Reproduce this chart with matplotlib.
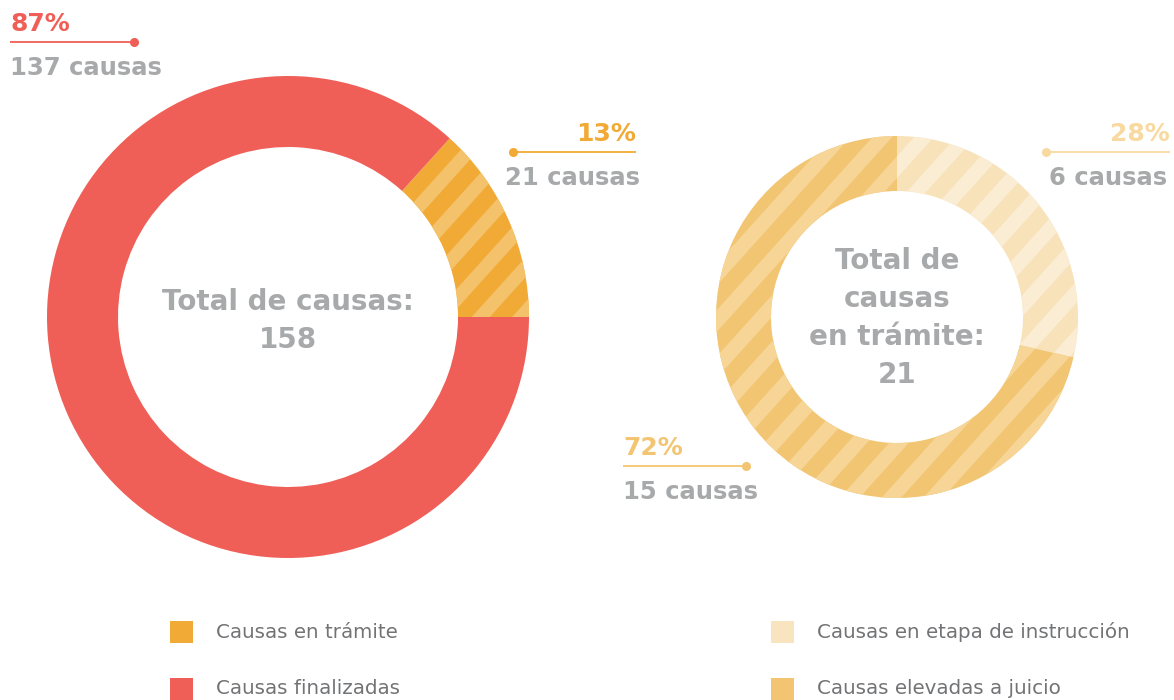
import matplotlib
matplotlib.use('Agg')
import matplotlib.pyplot as plt
import numpy as np

# datos
total_labels = ['Causas en trámite', 'Causas finalizadas']
total_values = [21, 137]
total_pct = [13, 87]

tramite_labels = ['Causas en etapa de instrucción', 'Causas elevadas a juicio']
tramite_values = [6, 15]
tramite_pct = [28, 72]

RED = '#EF5F57'
ORANGE = '#F0AA35'
LIGHT = '#F9E4C0'
MID = '#F3C572'
GRAY = '#A7A9AA'
LEG_GRAY = '#727375'

W, H = 1174, 700
fig = plt.figure(figsize=(W / 100, H / 100), dpi=100)
fig.patch.set_facecolor('white')

bg = fig.add_axes([0, 0, 1, 1])
bg.set_xlim(0, W)
bg.set_ylim(H, 0)
bg.axis('off')


def stripes(ax, wedge, color, r, period_px, frac, ang=48):
    # diagonal bands clipped to the wedge
    t = np.radians(ang)
    d = np.array([np.cos(t), np.sin(t)])
    n = np.array([-np.sin(t), np.cos(t)])
    p = period_px / r
    w = p * frac
    for k in range(-int(1.6 / p) - 1, int(1.6 / p) + 2):
        c = k * p
        pts = np.array([c * n - 2 * d, c * n + 2 * d, (c + w) * n + 2 * d, (c + w) * n - 2 * d])
        poly = ax.fill(pts[:, 0], pts[:, 1], color=color, lw=0, zorder=3)[0]
        poly.set_clip_path(wedge)


def donut(cx, cy, r, rin, values, start, counter, bases, bands, period_px, frac):
    ax = fig.add_axes([(cx - r) / W, 1 - (cy + r) / H, 2 * r / W, 2 * r / H])
    wedges, _ = ax.pie(values, startangle=start, counterclock=counter, radius=1,
                       colors=bases, wedgeprops=dict(width=1 - rin / r, linewidth=0))
    for wdg, s in zip(wedges, bands):
        if s:
            stripes(ax, wdg, s, r, period_px, frac)
    ax.set_xlim(-1, 1)
    ax.set_ylim(-1, 1)
    ax.set_aspect('equal')
    ax.axis('off')
    return ax


donut(288, 317, 241, 170, total_values, 0, True,
      [ORANGE, RED], ['#F3C26B', None], 30, 0.45)
donut(897, 317, 181, 126, tramite_values, 90, False,
      ['#F8E2B9', '#F2C572'], ['#FAEDD4', '#F6D597'], 31, 0.47)

bold = dict(fontweight='bold', family='DejaVu Sans')

# texto central
bg.text(288, 302, 'Total de causas:', ha='center', va='center', fontsize=20, color=GRAY, **bold)
bg.text(288, 340, f'{sum(total_values)}', ha='center', va='center', fontsize=20, color=GRAY, **bold)
for i, s in enumerate(['Total de', 'causas', 'en trámite:', f'{sum(tramite_values)}']):
    bg.text(897, 261 + i * 38, s, ha='center', va='center', fontsize=20, color=GRAY, **bold)


def callout(x0, x1, y, dot_x, pct, n, color, align, dx=0):
    bg.plot([x0, x1], [y, y], color=color, lw=1.3, solid_capstyle='butt')
    bg.plot([dot_x], [y], 'o', color=color, ms=5.5)
    tx = x0 if align == 'left' else x1
    bg.text(tx, y - 6, f'{pct}%', ha=align, va='bottom', fontsize=18, color=color, **bold)
    bg.text(tx + dx, y + 26, f'{n} causas', ha=align, va='center', fontsize=17.5, color=GRAY, **bold)


callout(10, 134, 42, 134, total_pct[1], total_values[1], RED, 'left')
callout(513, 636, 152, 513, total_pct[0], total_values[0], ORANGE, 'right', dx=4)
callout(1046, 1170, 152, 1046, tramite_pct[0], tramite_values[0], '#F8D9A0', 'right', dx=-3)
callout(623, 746, 466, 746, tramite_pct[1], tramite_values[1], MID, 'left')

# leyenda
legend_items = [
    (170, 632, ORANGE, total_labels[0]),
    (170, 689, RED, total_labels[1]),
    (771, 632, LIGHT, tramite_labels[0]),
    (771, 689, MID, tramite_labels[1]),
]
for lx, ly, c, lab in legend_items:
    bg.add_patch(plt.Rectangle((lx, ly - 11), 23, 22, facecolor=c, edgecolor='none'))
    bg.text(lx + 46, ly, lab, ha='left', va='center', fontsize=14.3,
            color=LEG_GRAY, family='DejaVu Sans')

fig.savefig('out.png', dpi=100, facecolor='white')
